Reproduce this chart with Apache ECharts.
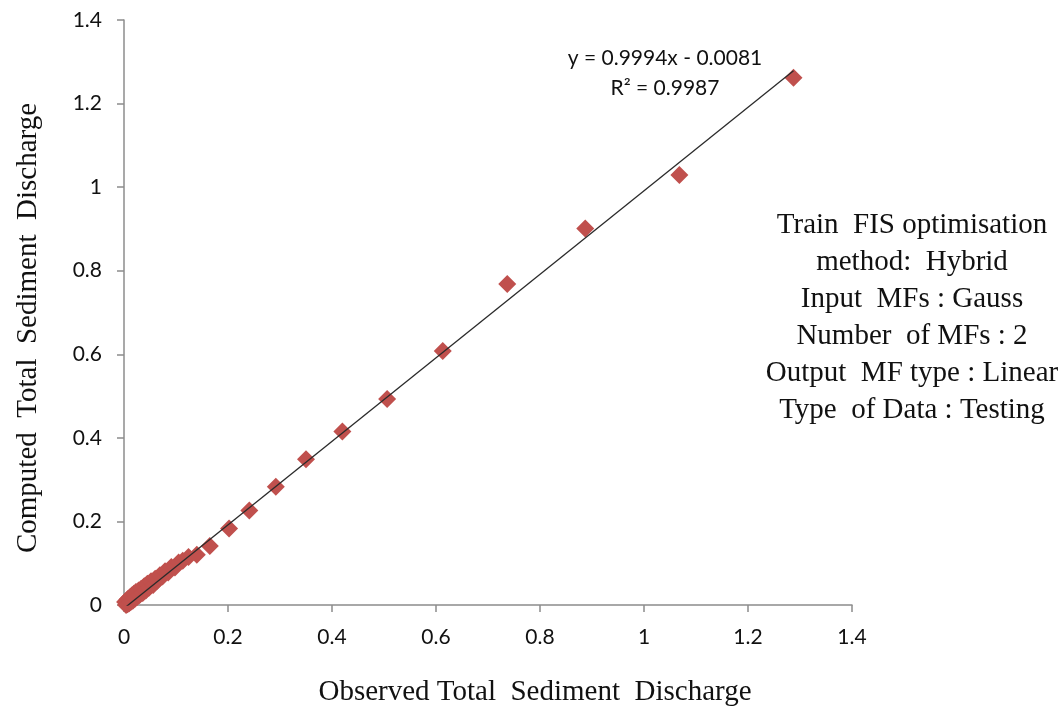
<!DOCTYPE html>
<html>
<head>
<meta charset="utf-8">
<script src="https://cdn.jsdelivr.net/npm/echarts@6/dist/echarts.min.js"></script>
<style>
  html, body { margin: 0; padding: 0; background: #fff; }
  #chart { width: 1063px; height: 709px; }
</style>
</head>
<body>
<div id="chart"></div>
<script>
// Observed vs computed total sediment discharge (testing data)
const observed = [
  0.002, 0.004, 0.005, 0.007, 0.008, 0.010, 0.012, 0.013, 0.015, 0.017,
  0.019, 0.021, 0.023, 0.025, 0.028, 0.030, 0.033, 0.036, 0.039, 0.042,
  0.045, 0.048, 0.052, 0.056, 0.060, 0.064, 0.069, 0.074, 0.079, 0.085,
  0.091, 0.098, 0.105, 0.113, 0.124, 0.140, 0.165, 0.202, 0.241, 0.292,
  0.350, 0.420, 0.506, 0.613, 0.737, 0.887, 1.068, 1.2875
];
const computed = [
  0.007, 0.000, 0.011, 0.002, 0.015, 0.004, 0.019, 0.007, 0.023, 0.010,
  0.027, 0.015, 0.031, 0.019, 0.035, 0.024, 0.039, 0.029, 0.045, 0.035,
  0.051, 0.041, 0.057, 0.048, 0.063, 0.058, 0.071, 0.068, 0.081, 0.078,
  0.091, 0.090, 0.102, 0.106, 0.115, 0.120, 0.141, 0.183, 0.226, 0.283,
  0.349, 0.415, 0.493, 0.608, 0.768, 0.901, 1.029, 1.262
];

// Linear trendline fitted to the points
const trendSlope = 0.9994;
const trendIntercept = -0.0081;
const trendText = ['y = 0.9994x - 0.0081', 'R\u00b2 = 0.9987'];

// Axis ticks
const tickMin = 0;
const tickMax = 1.4;
const tickStep = 0.2;

const xTitle = 'Observed Total  Sediment  Discharge';
const yTitle = 'Computed  Total  Sediment  Discharge';
const noteLines = [
  'Train  FIS optimisation',
  'method:  Hybrid',
  'Input  MFs : Gauss',
  'Number  of MFs : 2',
  'Output  MF type : Linear',
  'Type  of Data : Testing'
];

const points = observed.map((x, i) => [x, computed[i]]);
const xLo = Math.min(...observed);
const xHi = Math.max(...observed);
const trendPoints = [
  [xLo, trendSlope * xLo + trendIntercept],
  [xHi, trendSlope * xHi + trendIntercept]
];

const labelFont = 'Lato, "Open Sans", sans-serif';
const serif = '"Liberation Serif", "DejaVu Serif", serif';

const chart = echarts.init(document.getElementById('chart'), null, { renderer: 'canvas' });

const axisCommon = {
  type: 'value',
  min: tickMin,
  max: tickMax,
  interval: tickStep,
  splitLine: { show: false },
  axisLine: { show: true, onZero: false, lineStyle: { color: '#8c8c8c', width: 1.5 } },
  axisTick: { show: true, inside: false, length: 7, lineStyle: { color: '#8c8c8c', width: 1.5 } },
  axisLabel: {
    color: '#111',
    fontFamily: labelFont,
    fontSize: 21,
    formatter: v => String(Math.round(v * 10) / 10)
  }
};

chart.setOption({
  animation: false,
  backgroundColor: '#fff',
  grid: { left: 124, top: 20, width: 728, height: 585, containLabel: false },
  xAxis: Object.assign({}, axisCommon, {
    axisLabel: Object.assign({}, axisCommon.axisLabel, { margin: 22 })
  }),
  yAxis: Object.assign({}, axisCommon, {
    axisLabel: Object.assign({}, axisCommon.axisLabel, { margin: 22 })
  }),
  series: [
    {
      type: 'line',
      data: trendPoints,
      symbol: 'none',
      lineStyle: { color: '#2b2b2b', width: 1.3 },
      z: 3
    },
    {
      type: 'scatter',
      data: points,
      symbol: 'diamond',
      symbolSize: 18,
      itemStyle: { color: '#C0504D', opacity: 1 },
      z: 2
    }
  ],
  graphic: [
    {
      type: 'text',
      style: {
        text: trendText.join('\n'),
        font: '21px ' + labelFont,
        fill: '#111',
        align: 'center',
        verticalAlign: 'middle',
        lineHeight: 30
      },
      position: [665, 73]
    },
    {
      type: 'text',
      style: {
        text: noteLines.join('\n'),
        font: '29px ' + serif,
        fill: '#111',
        align: 'center',
        verticalAlign: 'middle',
        lineHeight: 37
      },
      position: [912, 318]
    },
    {
      type: 'text',
      style: {
        text: xTitle,
        font: '29px ' + serif,
        fill: '#111',
        align: 'center',
        verticalAlign: 'middle'
      },
      position: [535, 692]
    },
    {
      type: 'text',
      style: {
        text: yTitle,
        font: '29px ' + serif,
        fill: '#111',
        align: 'center',
        verticalAlign: 'middle'
      },
      rotation: Math.PI / 2,
      position: [28, 328]
    }
  ]
});
</script>
</body>
</html>
